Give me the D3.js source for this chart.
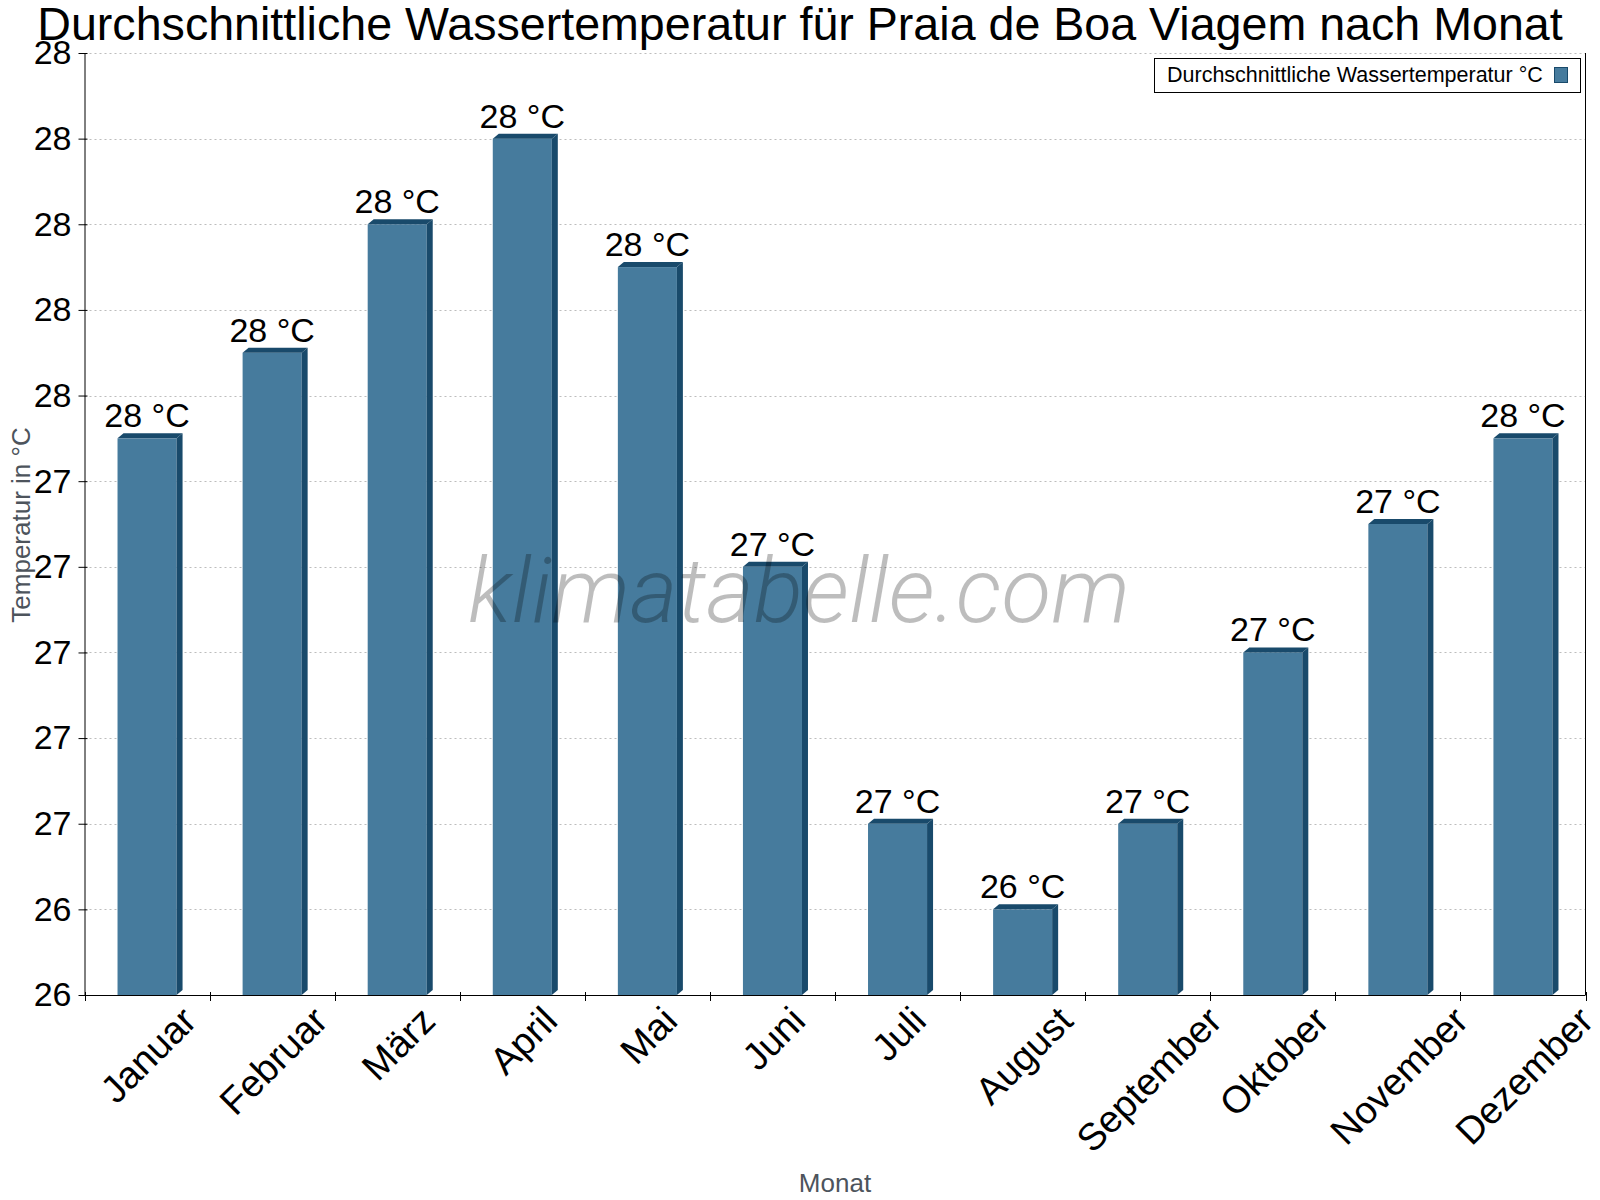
<!DOCTYPE html>
<html lang="de">
<head>
<meta charset="UTF-8">
<title>Wassertemperatur Praia de Boa Viagem</title>
<script src="https://d3js.org/d3.v7.min.js"></script>
<style>
  body { margin: 0; background: #fff; }
  svg { display: block; font-family: "Liberation Sans", Arial, sans-serif; }
</style>
</head>
<body>
<svg id="chart" width="1600" height="1200"></svg>
<script>
  // values
  let months = ["Januar", "Februar", "März", "April", "Mai", "Juni", "Juli",
                "August", "September", "Oktober", "November", "Dezember"]
  let waterTemp = [27.5, 27.7, 28.0, 28.2, 27.9, 27.2, 26.6, 26.4, 26.6, 27.0, 27.3, 27.5]
  let yTicks = [26.2, 26.4, 26.6, 26.8, 27.0, 27.2, 27.4, 27.6, 27.8, 28.0, 28.2, 28.4]

  let titleText = "Durchschnittliche Wassertemperatur für Praia de Boa Viagem nach Monat"
  let seriesName = "Durchschnittliche Wassertemperatur °C"

  let front = "#467b9d", dark = "#194a6b"
  let plotL = 84.5, plotR = 1585.5, plotT = 53, plotB = 995

  let svg = d3.select("#chart")

  let xScale = d3.scaleBand().domain(months).range([plotL, plotR])
  let yScale = d3.scaleLinear().domain([26.2, 28.4]).range([plotB, plotT])
  let bw = xScale.bandwidth()

  // dotted grid
  svg.append("g").selectAll("line")
    .data(yTicks.slice(1)).enter()
    .append("line")
    .attr("x1", plotL).attr("x2", plotR)
    .attr("y1", d => Math.round(yScale(d)) + 0.5)
    .attr("y2", d => Math.round(yScale(d)) + 0.5)
    .attr("stroke", "#bdbdbd").attr("stroke-dasharray", "2,3")

  // bars with a small 3d edge
  let dx = 6, dy = 5
  let bars = svg.append("g").selectAll("g")
    .data(waterTemp).enter().append("g")

  bars.each(function (v, i) {
    let g = d3.select(this)
    let x0 = xScale(months[i]) + bw * 0.264
    let x1 = x0 + bw * 0.472
    let y0 = yScale(v)
    g.append("rect")
      .attr("x", x0).attr("y", y0)
      .attr("width", x1 - x0).attr("height", plotB - y0)
      .attr("fill", front)
    g.append("polygon")
      .attr("points", [[x0, y0], [x0 + dx, y0 - dy], [x1 + dx, y0 - dy], [x1, y0]].join(" "))
      .attr("fill", dark)
    g.append("polygon")
      .attr("points", [[x1, y0], [x1 + dx, y0 - dy], [x1 + dx, plotB - dy], [x1, plotB]].join(" "))
      .attr("fill", dark)
  })

  // watermark
  svg.append("text")
    .attr("x", 799).attr("y", 622)
    .attr("text-anchor", "middle")
    .style("font-family", "Roboto, sans-serif")
    .style("font-weight", 300).style("font-style", "italic")
    .style("font-size", "91.5px")
    .attr("fill", "#000").attr("fill-opacity", 0.26)
    .text("klimatabelle.com")

  // value labels
  svg.append("g").selectAll("text")
    .data(waterTemp).enter()
    .append("text")
    .attr("x", (d, i) => xScale(months[i]) + bw / 2)
    .attr("y", d => yScale(d) - 11)
    .attr("text-anchor", "middle")
    .style("font-size", "34px")
    .text(d => Math.round(d) + " °C")

  // y axis
  let yAxis = d3.axisLeft(yScale)
    .tickValues(yTicks)
    .tickFormat(d => Math.round(d))
    .tickSizeInner(6).tickSizeOuter(0).tickPadding(7)
  let yG = svg.append("g").attr("transform", `translate(${plotL},0)`).call(yAxis)
  yG.selectAll("text").style("font-size", "34px").attr("fill", "#000")
    .style("font-family", "Liberation Sans, Arial, sans-serif")
  yG.selectAll(".tick line").attr("x2", -6).attr("x1", 3).attr("stroke", "#000")
  yG.select(".domain").attr("stroke", "#000")

  // right border
  svg.append("line")
    .attr("x1", plotR).attr("x2", plotR).attr("y1", plotT).attr("y2", plotB)
    .attr("stroke", "#000")

  // x axis line and ticks at band boundaries
  svg.append("line")
    .attr("x1", plotL).attr("x2", plotR).attr("y1", plotB + 0.5).attr("y2", plotB + 0.5)
    .attr("stroke", "#000")
  svg.append("g").selectAll("line")
    .data(d3.range(months.length + 1)).enter()
    .append("line")
    .attr("x1", i => Math.round(plotL + i * bw) + 0.5)
    .attr("x2", i => Math.round(plotL + i * bw) + 0.5)
    .attr("y1", plotB - 3).attr("y2", plotB + 6)
    .attr("stroke", "#000")

  // rotated month labels, bounding box centred under band, top fixed
  let labelTop = 1004, fs = 38
  svg.append("g").selectAll("text")
    .data(months).enter()
    .append("text")
    .style("font-size", fs + "px")
    .attr("text-anchor", "middle")
    .attr("dy", "0.35em")
    .text(d => d)
    .attr("transform", function (d) {
      let L = this.getComputedTextLength()
      let cx = xScale(d) + bw / 2 + 1
      let cy = labelTop + (L + fs * 0.72) * Math.SQRT1_2 / 2
      return `translate(${cx},${cy}) rotate(-45)`
    })

  // axis titles
  svg.append("text")
    .attr("x", 835).attr("y", 1192)
    .attr("text-anchor", "middle")
    .style("font-size", "26px").attr("fill", "#4d545c")
    .text("Monat")
  svg.append("text")
    .attr("transform", "translate(30,525) rotate(-90)")
    .attr("text-anchor", "middle")
    .style("font-size", "26px").attr("fill", "#4d545c")
    .text("Temperatur in °C")

  // title
  svg.append("text")
    .attr("x", 800).attr("y", 40)
    .attr("text-anchor", "middle")
    .style("font-size", "46.6px")
    .text(titleText)

  // legend
  let lg = svg.append("g")
  lg.append("rect")
    .attr("x", 1154.5).attr("y", 58.5).attr("width", 426).attr("height", 34)
    .attr("fill", "#fff").attr("stroke", "#000")
  lg.append("text")
    .attr("x", 1167).attr("y", 82)
    .style("font-size", "21.5px")
    .text(seriesName)
  lg.append("rect")
    .attr("x", 1554.5).attr("y", 67.5).attr("width", 13).attr("height", 15)
    .attr("fill", front).attr("stroke", dark)
</script>
</body>
</html>
